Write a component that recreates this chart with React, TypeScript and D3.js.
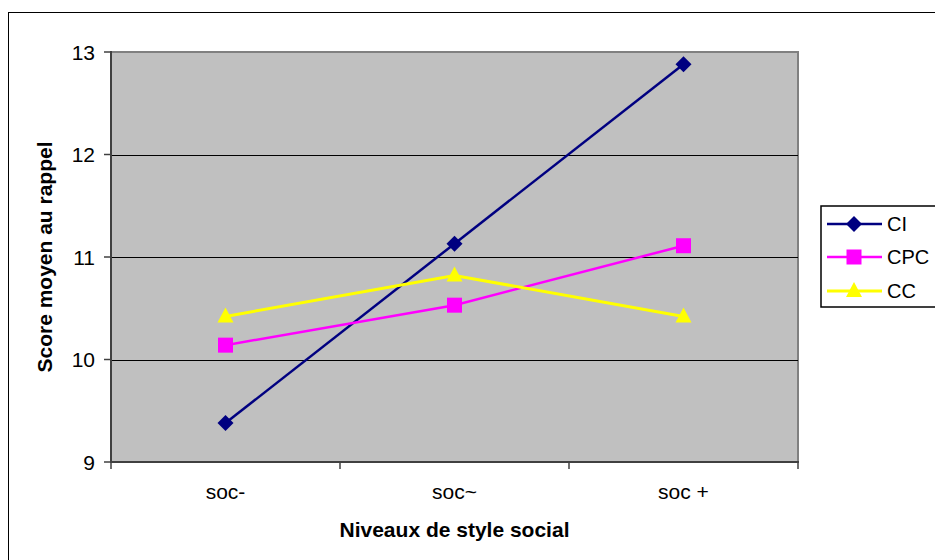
import React from "react";
import * as d3 from "d3";

const categories = ["soc-", "soc~", "soc +"];
const seriesNames = ["CI", "CPC", "CC"];
const ciValues = [9.38, 11.13, 12.88];
const cpcValues = [10.14, 10.53, 11.11];
const ccValues = [10.42, 10.82, 10.42];
const yTicks = [9, 10, 11, 12, 13];
const seriesColors = ["#000080", "#FF00FF", "#FFFF00"];
const markerTypes = ["diamond", "square", "triangle"];

const W = 935;
const H = 560;
const plot = { left: 111, right: 798, top: 52, bottom: 462 };
const FONT = "Arial, 'Liberation Sans', sans-serif";

function Marker({ type, x, y, color }: { type: string; x: number; y: number; color: string }) {
  if (type === "diamond") {
    const r = 8;
    return <path d={`M${x},${y - r}L${x + r},${y}L${x},${y + r}L${x - r},${y}Z`} fill={color} />;
  }
  if (type === "square") {
    const s = 15;
    return <rect x={x - s / 2} y={y - s / 2} width={s} height={s} fill={color} />;
  }
  const w = 16, h = 15;
  return <path d={`M${x},${y - h * 0.6}L${x + w / 2},${y + h * 0.4}L${x - w / 2},${y + h * 0.4}Z`} fill={color} />;
}

export default function App() {
  const x = d3.scaleBand<string>().domain(categories).range([plot.left, plot.right]);
  const y = d3.scaleLinear().domain([9, 13]).range([plot.bottom, plot.top]);
  const series = [ciValues, cpcValues, ccValues];
  const line = d3
    .line<number>()
    .x((_, i) => (x(categories[i]) as number) + x.bandwidth() / 2)
    .y((d) => y(d));
  const lineWidths = [2.5, 2.5, 3];
  const legendY = [224, 257, 291];
  const xTickPositions = [...categories.map((c) => x(c) as number), plot.right];

  return (
    <svg
      width={W}
      height={H}
      style={{ position: "absolute", left: 0, top: 0, background: "#fff" }}
      fontFamily={FONT}
    >
      <rect x={0} y={0} width={W} height={H} fill="#fff" />
      <rect x={8.5} y={12.5} width={W + 10} height={H + 10} fill="none" stroke="#000" strokeWidth={1} />

      {/* plot area */}
      <rect
        x={plot.left}
        y={plot.top}
        width={plot.right - plot.left}
        height={plot.bottom - plot.top}
        fill="#C0C0C0"
        stroke="#808080"
        strokeWidth={2}
      />
      {/* gridlines */}
      {yTicks
        .filter((t) => t !== 9 && t !== 13)
        .map((t) => (
          <line key={t} x1={plot.left} x2={plot.right} y1={Math.round(y(t)) + 0.5} y2={Math.round(y(t)) + 0.5} stroke="#000" strokeWidth={1} />
        ))}
      {/* axes */}
      <line x1={plot.left} x2={plot.left} y1={plot.top - 1} y2={plot.bottom + 1} stroke="#404040" strokeWidth={2} />
      <line x1={plot.left - 1} x2={plot.right + 1} y1={plot.bottom} y2={plot.bottom} stroke="#404040" strokeWidth={2} />
      {yTicks.map((t) => (
        <g key={t}>
          <line x1={plot.left - 7} x2={plot.left} y1={y(t)} y2={y(t)} stroke="#404040" strokeWidth={1.5} />
          <text x={95} y={y(t)} dy="0.36em" textAnchor="end" fontSize={21} fill="#000">
            {t}
          </text>
        </g>
      ))}
      {xTickPositions.map((p, i) => (
        <line key={i} x1={p} x2={p} y1={plot.bottom} y2={plot.bottom + 7} stroke="#404040" strokeWidth={1.5} />
      ))}
      {categories.map((c) => (
        <text key={c} x={(x(c) as number) + x.bandwidth() / 2} y={499} textAnchor="middle" fontSize={21} fill="#000">
          {c}
        </text>
      ))}

      {/* series */}
      {series.map((vals, si) => (
        <g key={si}>
          <path d={line(vals) as string} fill="none" stroke={seriesColors[si]} strokeWidth={lineWidths[si]} />
          {vals.map((v, i) => (
            <Marker
              key={i}
              type={markerTypes[si]}
              x={(x(categories[i]) as number) + x.bandwidth() / 2}
              y={y(v)}
              color={seriesColors[si]}
            />
          ))}
        </g>
      ))}

      {/* axis titles */}
      <text x={(plot.left + plot.right) / 2} y={537} textAnchor="middle" fontSize={21} fontWeight="bold" fill="#000">
        Niveaux de style social
      </text>
      <text
        transform={`translate(52,${(plot.top + plot.bottom) / 2}) rotate(-90)`}
        textAnchor="middle"
        fontSize={21}
        fontWeight="bold"
        fill="#000"
      >
        Score moyen au rappel
      </text>

      {/* legend */}
      <rect x={821} y={206} width={140} height={101} fill="#fff" stroke="#000" strokeWidth={1.5} />
      {seriesNames.map((n, i) => (
        <g key={n}>
          <line x1={827} x2={882} y1={legendY[i]} y2={legendY[i]} stroke={seriesColors[i]} strokeWidth={lineWidths[i]} />
          <Marker type={markerTypes[i]} x={854} y={legendY[i]} color={seriesColors[i]} />
          <text x={887} y={legendY[i]} dy="0.36em" fontSize={20} fill="#000">
            {n}
          </text>
        </g>
      ))}
    </svg>
  );
}
